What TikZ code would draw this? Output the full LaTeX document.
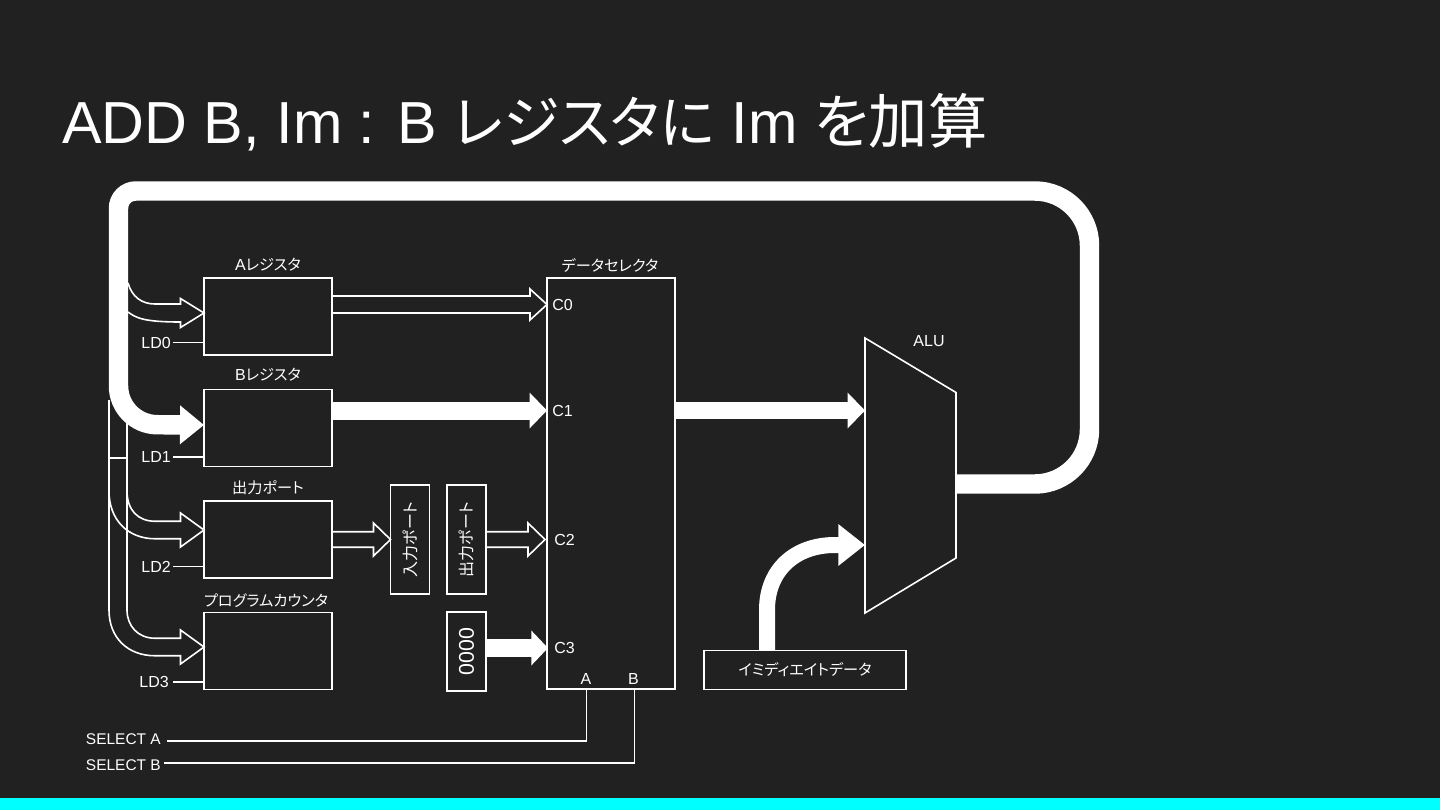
\documentclass[tikz,border=0pt]{standalone}
\usepackage{fontspec}
\usepackage{xcolor}
\usetikzlibrary{calc, positioning, arrows.meta}
\setmainfont{Liberation Sans}
\newfontfamily\jpfont[RawFeature=+palt, Scale=0.95]{Noto Sans CJK JP}
\newfontfamily\jpport[RawFeature=+palt]{Noto Sans CJK JP}
\newfontfamily\jptitle[RawFeature=+palt, Scale=0.96]{Noto Sans CJK JP}
\definecolor{SlideGrey}{HTML}{212121}
\definecolor{BarCyan}{HTML}{00FFFF}
\tikzset{
    wire/.style={white, line width=1.2pt, line join=miter},
    blockbox/.style={draw=white, line width=1.2pt, inner sep=0pt, outer sep=0pt, white, font=\fontsize{12}{14}\selectfont},
    regbox/.style={blockbox, minimum width=96pt, minimum height=57.75pt},
    portbox/.style={blockbox, minimum width=29.5pt, minimum height=82pt},
    caption/.style={white, inner sep=0pt, font=\fontsize{12}{14}\selectfont},
    busarrow/.style n args={3}{white, line width=#1, -{Triangle[length=#2, width=#3]}}
}
% outline arrow: tip, head length, head half height, shaft half height, tail above, tail below
\newcommand{\hollowarrow}[6]{
    \draw[wire] #5 -- ($(#1)+(-#2,-#4)$) -- ($(#1)+(-#2,-#3)$) -- (#1) -- ($(#1)+(-#2,#3)$) -- ($(#1)+(-#2,#4)$) #6;
}
\begin{document}
\begin{tikzpicture}[x=0.75pt, y=-0.75pt]
    \useasboundingbox (0,0) rectangle (1440,810);
    \fill[SlideGrey] (0,0) rectangle (1440,810);
    \fill[BarCyan] (0,798) rectangle (1440,810);

    \node[anchor=base west, white, inner sep=0pt, font=\fontsize{44.5}{50}\selectfont] (title) at (62,143) {ADD B, Im : B {\jptitle レジスタに} Im {\jpport を加算}};

    % Registers
    \node[regbox] (rega) at (268,316.5) {};
    \node[regbox] (regb) at (268,428) {};
    \node[regbox] (regout) at (268,539.5) {};
    \node[regbox] (regpc) at (268,651) {};
    \node[caption] (capa) at (268,265) {A{\jpfont レジスタ}};
    \node[caption] (capb) at (268,375) {B{\jpfont レジスタ}};
    \node[caption] (capout) at (268,488) {\jpfont 出力ポート};
    \node[caption] (cappc) at (266,601) {\jpfont プログラムカウンタ};

    \node[caption, anchor=east] (ldzero) at (171,342.5) {LD0};
    \node[caption, anchor=east] (ldone) at (171,457) {LD1};
    \node[caption, anchor=east] (ldtwo) at (171,566.5) {LD2};
    \node[caption, anchor=east] (ldthree) at (169,682) {LD3};
    \foreach \ldname/\regname in {ldzero/rega, ldone/regb, ldtwo/regout, ldthree/regpc}
        \draw[wire] (173,0 |- \ldname) -- (\regname.west |- \ldname);

    % Ports and constant
    \node[portbox] (portin) at (410,539.5) {\rotatebox{90}{\jpport 入力ポート}};
    \node[portbox] (portout) at (466.5,539.5) {\rotatebox{90}{\jpport 出力ポート}};
    \node[blockbox, minimum width=29.5pt, minimum height=59.5pt, font=\fontsize{16}{18}\selectfont] (zero) at (466.5,651.5) {\rotatebox{90}{0000}};

    % Selector
    \node[blockbox, minimum width=96pt, minimum height=308.25pt] (selector) at (611,483.5) {};
    \node[caption] (capsel) at (610,265) {\jpfont データセレクタ};
    \node[caption] (czero) at (562.5,304.5) {C0};
    \node[caption] (cone) at (562.5,410.5) {C1};
    \node[caption] (ctwo) at (564.5,539.5) {C2};
    \node[caption] (cthree) at (564.5,648) {C3};
    \node[caption] (sela) at (586,678.5) {A};
    \node[caption] (selb) at (633.5,678.5) {B};

    % ALU
    \coordinate (alunw) at (865,338);
    \coordinate (alune) at (956,392.5);
    \coordinate (aluse) at (956,558);
    \coordinate (alusw) at (865,613);
    \draw[wire] (alunw) -- (alune) -- (aluse) -- (alusw) -- cycle;
    \node[caption] (capalu) at (929,341.5) {ALU};
    \coordinate (aluina) at (865,410.5);
    \coordinate (aluinb) at (865,545);
    \coordinate (aluout) at (956,484);

    \node[blockbox, minimum width=151.5pt, minimum height=29.25pt] (imm) at (805,670) {\jpfont イミディエイトデータ};

    % Select lines
    \node[caption, anchor=east, font=\fontsize{11.6}{14}\selectfont] (selecta) at (161,739.5) {SELECT A};
    \node[caption, anchor=east, font=\fontsize{11.6}{14}\selectfont] (selectb) at (161,765) {SELECT B};
    \coordinate (selatap) at (586.5,689);
    \coordinate (selbtap) at (634.5,689);
    \draw[wire] (167,741) -- (selatap |- 0,741) -- (selatap);
    \draw[wire] (164,763) -- (selbtap |- 0,763) -- (selbtap);

    % Load lines behind the bus
    \coordinate (tiptop) at (109,400);
    \coordinate (tipinner) at (127,420);
    \draw[wire] (109,458) -- (127,458);

    \coordinate (tipa) at (204,313);
    \coordinate (tipb) at (204,425);
    \coordinate (tipout) at (204,530);
    \coordinate (tippc) at (204,647);

    \hollowarrow{tipa}{23.5}{14.5}{9}{(128,283) .. controls (132,297) and (142,304) .. (155,304)}{.. controls (144,322) and (136,318) .. (128,312)}
    \hollowarrow{tipout}{23.5}{17}{8.75}{(tipinner) -- (127,491) .. controls (127,510) and (138,521.25) .. (155,521.25)}{-- (155,538.75) .. controls (128,538.75) and (109,520) .. (109,491) -- (tiptop)}
    \hollowarrow{tippc}{23.5}{17}{8.75}{(127,491) -- (127,610) .. controls (127,626) and (138,638.25) .. (155,638.25)}{-- (155,655.75) .. controls (128,655.75) and (109,638) .. (109,610) -- (109,491)}

    % Outline data paths
    \coordinate (tipczero) at (547,304.5);
    \coordinate (tipportin) at (390.5,539.5);
    \coordinate (tipctwo) at (545,539.5);
    \hollowarrow{tipczero}{17}{15.5}{8.5}{(rega.east |- 0,296)}{-- (rega.east |- 0,313)}
    \hollowarrow{tipportin}{17}{16.5}{7.75}{(regout.east |- 0,531.75)}{-- (regout.east |- 0,547.25)}
    \hollowarrow{tipctwo}{17}{16.5}{7.75}{(portout.east |- 0,531.75)}{-- (portout.east |- 0,547.25)}

    % Bus
    \draw[busarrow={13.5pt}{13pt}{26pt}] (regb.east |- cone) -- (selector.west |- cone);
    \draw[busarrow={13pt}{12.5pt}{25.5pt}] (zero.east |- cthree) -- (548,648);
    \draw[busarrow={13pt}{13pt}{26pt}] (selector.east |- aluina) -- (aluina);
    \draw[busarrow={12pt}{20pt}{30pt}] (767,0 |- imm.north) -- (767,610) .. controls (767,570) and (795,545) .. (835,545) -- (aluinb);
    \draw[busarrow={14.6pt}{18pt}{28pt}, rounded corners=41pt] (aluout) -- (1089.5,484) -- (1089.5,191) [rounded corners=13pt] -- (118.5,191) [rounded corners=29pt] -- (118.5,424.5) -- (tipb);
\end{tikzpicture}
\end{document}
